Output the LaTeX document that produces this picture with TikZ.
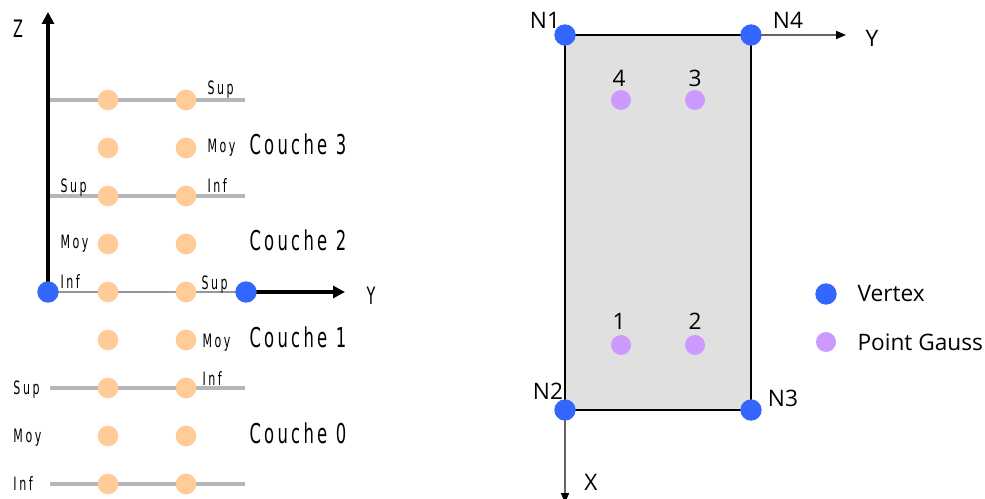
\documentclass[tikz,border=0pt]{standalone}
\usepackage{fontspec}
\setmainfont{Open Sans}
\newfontfamily\couchefont[FakeStretch=0.6,LetterSpace=12]{DejaVu Sans}
\newfontfamily\labfont[FakeStretch=0.6,LetterSpace=14]{DejaVu Sans}
\usetikzlibrary{arrows.meta}

\definecolor{vertexblue}{RGB}{51,102,255}
\definecolor{gausspurple}{RGB}{204,153,255}
\definecolor{layerorange}{RGB}{255,204,153}
\definecolor{layergray}{RGB}{182,182,182}
\definecolor{midgray}{RGB}{150,150,150}
\definecolor{elemgray}{RGB}{224,224,224}
\definecolor{axisgray}{RGB}{100,100,100}

\tikzset{every picture/.style={line width=0.75pt}}
\tikzset{
	vertex/.style={circle,fill=vertexblue,inner sep=0pt,minimum size=16pt},
	gausspt/.style={circle,fill=gausspurple,inner sep=0pt,minimum size=15pt},
	layerpt/.style={circle,fill=layerorange,inner sep=0pt,minimum size=15.5pt},
	interface/.style={draw=layergray,line width=3pt},
	midline/.style={draw=midgray,line width=2pt},
	axisthick/.style={draw=black,line width=2.4pt,-{Triangle[length=9pt,width=9pt]}},
	axisthin/.style={draw=axisgray,line width=1.3pt,-{Triangle[length=7.5pt,width=6pt,color=black]}},
	element/.style={draw=black,fill=elemgray,line width=1.4pt},
	couchelab/.style={anchor=base west,inner sep=0pt,font=\couchefont\fontsize{20.5}{24}\selectfont},
	layerlab/.style={anchor=base west,inner sep=0pt,font=\labfont\fontsize{13.8}{16}\selectfont},
	axislab/.style={inner sep=0pt,font=\couchefont\fontsize{18}{20}\selectfont},
	meshlab/.style={inner sep=0pt,font=\fontsize{17}{20}\selectfont}
}

\begin{document}
\begin{tikzpicture}[x=0.75pt,y=0.75pt,yscale=-1,xscale=1]
	\useasboundingbox (0,0) rectangle (985,499);

	% ---- left: layers through the thickness ----
	\coordinate (orig) at (48,292);
	\coordinate (yend) at (246,292);
	\coordinate (ztip) at (48,12);
	\coordinate (ytip) at (345,292);

	%Straight Lines: interfaces
	\foreach \i/\yy in {0/484,2/388,6/196,8/100}{
		\coordinate (ia\i) at (50,\yy);
		\coordinate (ib\i) at (245,\yy);
		\draw [interface] (ia\i) -- (ib\i);
	}
	\draw [midline] (orig) -- (yend);

	%Axes
	\draw [axisthick] (orig) -- (ztip);
	\draw [axisthick] (yend) -- (ytip);

	%Shape: Circle, integration points
	\foreach \i/\yy in {0/484,1/436,2/388,3/340,4/292,5/244,6/196,7/148,8/100}{
		\node [layerpt] (pa\i) at (108,\yy) {};
		\node [layerpt] (pb\i) at (186,\yy) {};
	}
	\node [vertex] (va) at (orig) {};
	\node [vertex] (vb) at (yend) {};

	% Text Node
	\node [axislab] (zlab) at (18,29) {Z};
	\node [axislab] (ylab) at (371,296) {Y};

	% Text Node
	\node [layerlab] (sup3) at (207,95) {Sup};
	\node [layerlab] (moy3) at (207,153) {Moy};
	\node [layerlab] (sup2) at (60,193) {Sup};
	\node [layerlab] (inf3) at (207,193) {Inf};
	\node [layerlab] (moy2) at (60,248) {Moy};
	\node [layerlab] (inf2) at (60,288) {Inf};
	\node [layerlab] (sup1) at (201,289) {Sup};
	\node [layerlab] (moy1) at (202,347) {Moy};
	\node [layerlab] (sup0) at (13,394) {Sup};
	\node [layerlab] (inf1) at (202,385) {Inf};
	\node [layerlab] (moy0) at (13,442) {Moy};
	\node [layerlab] (inf0) at (13,490) {Inf};

	% Text Node
	\node [couchelab] (c3) at (249,155) {Couche 3};
	\node [couchelab] (c2) at (249,250) {Couche 2};
	\node [couchelab] (c1) at (249,347) {Couche 1};
	\node [couchelab] (c0) at (249,443) {Couche 0};

	% ---- right: element in the plane ----
	\coordinate (p1) at (565,35);
	\coordinate (p2) at (565,410);
	\coordinate (p3) at (751,410);
	\coordinate (p4) at (751,35);
	\coordinate (yrtip) at (846,35);
	\coordinate (xtip) at (565,503);

	%Shape: Rectangle
	\draw [element] (p1) rectangle (p3);

	%Axes
	\draw [axisthin] (p4) -- (yrtip);
	\draw [axisthin] (p2) -- (xtip);

	%Shape: Circle, vertices
	\node [vertex] (n1) at (p1) {};
	\node [vertex] (n2) at (p2) {};
	\node [vertex] (n3) at (p3) {};
	\node [vertex] (n4) at (p4) {};

	%Shape: Circle, Gauss points
	\node [gausspt] (g1) at (621,345) {};
	\node [gausspt] (g2) at (695,345) {};
	\node [gausspt] (g3) at (695,100) {};
	\node [gausspt] (g4) at (621,100) {};

	% Text Node
	\node [meshlab] (n1lab) at (545,20) {N1};
	\node [meshlab] (n2lab) at (548,391) {N2};
	\node [meshlab] (n3lab) at (783,398) {N3};
	\node [meshlab] (n4lab) at (788,20) {N4};
	\node [meshlab] (g1lab) at (619,321) {1};
	\node [meshlab] (g2lab) at (695,321) {2};
	\node [meshlab] (g3lab) at (695,78) {3};
	\node [meshlab] (g4lab) at (619,78) {4};
	\node [meshlab] (yrlab) at (872,38) {Y};
	\node [meshlab] (xlab) at (591,482) {X};

	%Legend
	\node [vertex] (legv) at (826,294) {};
	\node [meshlab,anchor=west] (legvt) at (857,294) {Vertex};
	\node [gausspt] (legg) at (826,342) {};
	\node [meshlab,anchor=west] (leggt) at (857,342) {Point Gauss};

\end{tikzpicture}
\end{document}
